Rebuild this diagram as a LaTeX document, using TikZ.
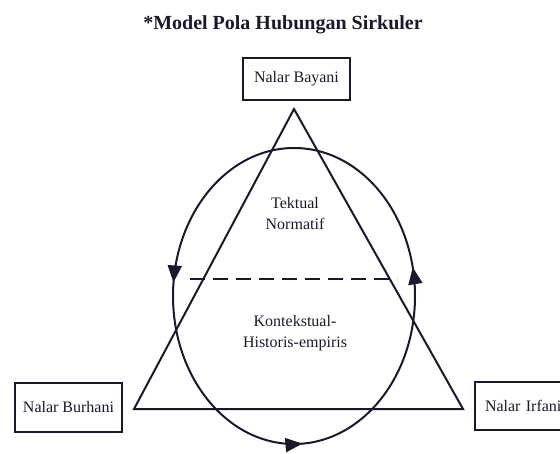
\documentclass[tikz,border=0pt]{standalone}
\usepackage{fontspec}
\setmainfont{Liberation Serif}
\usetikzlibrary{arrows.meta,decorations.markings}
\definecolor{ink}{RGB}{25,25,45}
\tikzset{
  lbox/.style={draw=ink,line width=2pt,minimum width=107pt,inner sep=0pt,font=\fontsize{16}{18}\selectfont,text=ink},
  lbl/.style={align=center,font=\fontsize{16}{21}\selectfont,text=ink},
  thick line/.style={draw=ink,line width=2pt},
  mytip/.tip={Triangle[length=17pt,width=14pt]}
}
\begin{document}
\begin{tikzpicture}[x=1pt,y=1pt]
\useasboundingbox (0,0) rectangle (560,453);
\begin{scope}
\clip (0,0) rectangle (560,453);
% title
\node[text=ink,font=\fontsize{20}{24}\selectfont\bfseries] (title) at (283,428) {*Model Pola Hubungan Sirkuler};
% boxes
\node[lbox,minimum height=42pt] (bayani) at (296.5,374) {Nalar Bayani};
\node[lbox,minimum height=49pt] (burhani) at (68.5,45.5) {Nalar Burhani};
\node[lbox,minimum height=48pt,anchor=west,text width=88pt,inner xsep=10pt,align=left] (irfani) at (474,47) {Nalar Irfani};
% triangle
\coordinate (apex) at (294,344);
\coordinate (bl) at (134,44);
\coordinate (br) at (463,44);
\draw[thick line,line join=miter] (apex) -- (bl) -- (br) -- cycle;
% ellipse with arrows
\coordinate (c) at (294,157);
\draw[thick line,postaction={decorate},decoration={markings,
   mark=at position 0.034 with {\arrow[ink]{mytip}},
   mark=at position 0.484 with {\arrow[ink]{mytip}},
   mark=at position 0.760 with {\arrow[ink]{mytip}}}]
   (c) ellipse [x radius=121, y radius=148];
% dashed line
\coordinate (dl) at (190,174);
\coordinate (dr) at (397,174);
\draw[thick line,dash pattern=on 15pt off 8pt] (dl) -- (dr);
% labels
\node[lbl] (tek) at (295,239) {Tektual\\Normatif};
\node[lbl] (kon) at (295,120) {Kontekstual-\\Historis-empiris};
\end{scope}
\end{tikzpicture}
\end{document}
